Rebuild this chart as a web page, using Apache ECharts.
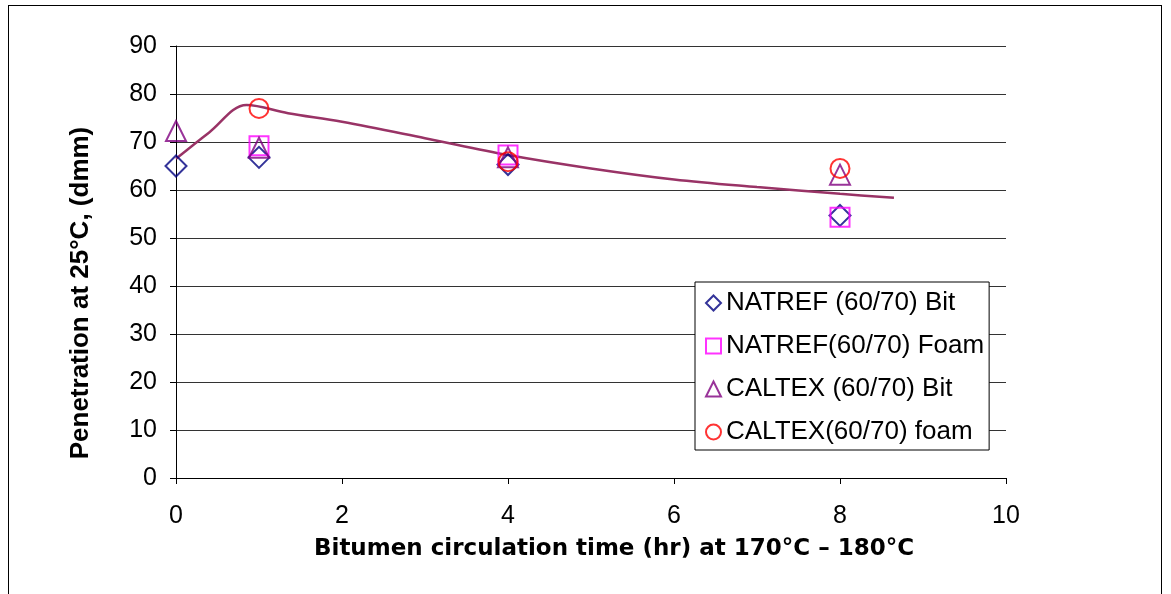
<!DOCTYPE html>
<html><head><meta charset="utf-8">
<script src="https://cdn.jsdelivr.net/npm/echarts@6/dist/echarts.min.js"></script>
<style>
html,body{margin:0;padding:0;background:#fff;}
#frame{position:absolute;left:8px;top:5px;width:1152px;height:600px;border:1px solid #000;}
#c{position:absolute;left:0;top:0;width:1171px;height:594px;}
</style></head><body>
<div id="frame"></div>
<div id="c"></div>
<script>
const xTicks = [0, 2, 4, 6, 8, 10];
const yTicks = [0, 10, 20, 30, 40, 50, 60, 70, 80, 90];
const seriesNames = ['NATREF (60/70) Bit', 'NATREF(60/70) Foam', 'CALTEX (60/70) Bit', 'CALTEX(60/70) foam'];
const natrefBit = [[0, 65], [1, 66.8], [4, 65.3], [8, 54.7]];
const natrefFoam = [[1, 69.2], [4, 67.3], [8, 54.3]];
const caltexBit = [[0, 72.3], [1, 68.8], [4, 66.8], [8, 63.2]];
const caltexFoam = [[1, 77.0], [4, 65.9], [8, 64.5]];
const trendLine = [[0, 66.5], [0.4, 72], [0.85, 77.7], [1.35, 76], [2, 74.2], [3, 70.8], [4, 67.3], [5, 64.5], [6, 62.2], [7, 60.6], [8, 59.2], [8.65, 58.4]];

const chart = echarts.init(document.getElementById('c'), null, {renderer: 'canvas'});
const font = 'Liberation Sans, Arial, sans-serif';
function scatter(name, data, symbol, size, color) {
  return {
    name, type: 'scatter', data, symbol, symbolSize: size,
    itemStyle: {color: 'rgba(255,255,255,0)', borderColor: color, borderWidth: 2},
    z: 3
  };
}
chart.setOption({
  animation: false,
  grid: {left: 176, right: 165, top: 46, bottom: 116, show: false},
  xAxis: {
    type: 'value', min: 0, max: 10, interval: 2,
    name: 'Bitumen circulation time (hr) at 170°C – 180°C',
    nameLocation: 'middle', nameGap: 60,
    nameTextStyle: {
      fontFamily: 'DejaVu Sans, sans-serif', fontWeight: 'bold', fontSize: 23, color: '#000',
      padding: [0, 0, 0, 46]
    },
    axisLine: {lineStyle: {color: '#000', width: 1}},
    axisTick: {show: true, length: 6, lineStyle: {color: '#000'}},
    axisLabel: {fontFamily: font, fontSize: 25, color: '#000', margin: 26},
    splitLine: {show: false}
  },
  yAxis: {
    type: 'value', min: 0, max: 90, interval: 10,
    name: 'Penetration at 25°C, (dmm)',
    nameLocation: 'middle', nameGap: 82,
    nameTextStyle: {fontFamily: font, fontWeight: 'bold', fontSize: 26, color: '#000', padding: [0, 62, 0, 0]},
    axisLine: {show: true, lineStyle: {color: '#000', width: 1}},
    axisTick: {show: true, length: 6, lineStyle: {color: '#000'}},
    axisLabel: {fontFamily: font, fontSize: 25, color: '#000', margin: 19},
    splitLine: {show: true, lineStyle: {color: '#333', width: 1}}
  },
  legend: {
    data: seriesNames,
    orient: 'vertical', left: 695, top: 282,
    padding: [8, 5, 5, 10],
    itemGap: 17,
    itemWidth: 15, itemHeight: 15,
    borderColor: '#000', borderWidth: 1,
    backgroundColor: '#fff',
    textStyle: {fontFamily: font, fontSize: 26, lineHeight: 25, color: '#000', padding: [0, 0, 0, 0]}
  },
  series: [
    {
      name: 'trend', type: 'line', data: trendLine, smooth: 0.35, symbol: 'none',
      lineStyle: {color: '#993366', width: 2.5}, z: 2, silent: true
    },
    scatter(seriesNames[0], natrefBit, 'diamond', 21, '#000080'),
    scatter(seriesNames[1], natrefFoam, 'rect', 19, '#FF00FF'),
    scatter(seriesNames[2], caltexBit, 'triangle', 20, '#800080'),
    scatter(seriesNames[3], caltexFoam, 'circle', 19, '#FF0000')
  ]
});
</script></body></html>
